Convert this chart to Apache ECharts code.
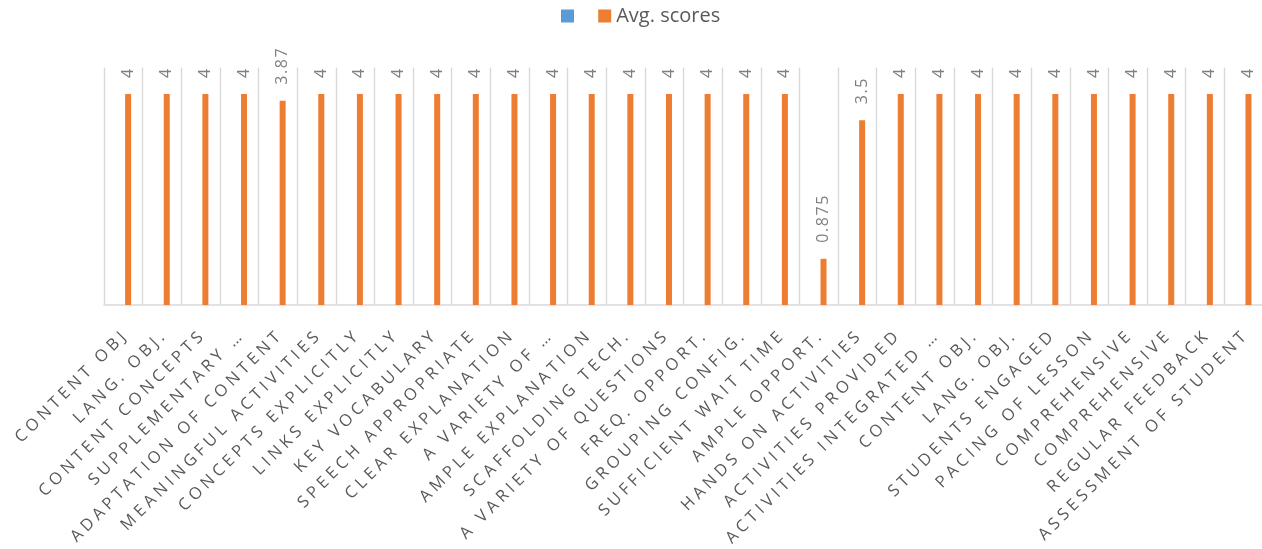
<!DOCTYPE html>
<html>
<head>
<meta charset="utf-8">
<title>Avg. scores</title>
<script src="https://cdn.jsdelivr.net/npm/echarts@6/dist/echarts.min.js"></script>
<style>
  html, body { margin: 0; padding: 0; background: #ffffff; }
  #chart { width: 1262px; height: 549px; }
</style>
</head>
<body>
<div id="chart"></div>
<script>
// Observation items, in the order they appear along the axis
const categories = [
  'CONTENT OBJ',
  'LANG. OBJ.',
  'CONTENT CONCEPTS',
  'SUPPLEMENTARY …',
  'ADAPTATION OF CONTENT',
  'MEANINGFUL ACTIVITIES',
  'CONCEPTS EXPLICITLY',
  'LINKS EXPLICITLY',
  'KEY VOCABULARY',
  'SPEECH APPROPRIATE',
  'CLEAR EXPLANATION',
  'A VARIETY OF …',
  'AMPLE EXPLANATION',
  'SCAFFOLDING TECH.',
  'A VARIETY OF QUESTIONS',
  'FREQ. OPPORT.',
  'GROUPING CONFIG.',
  'SUFFICIENT WAIT TIME',
  'AMPLE OPPORT.',
  'HANDS ON ACTIVITIES',
  'ACTIVITIES PROVIDED',
  'ACTIVITIES INTEGRATED …',
  'CONTENT OBJ.',
  'LANG. OBJ.',
  'STUDENTS ENGAGED',
  'PACING OF LESSON',
  'COMPREHENSIVE',
  'COMPREHENSIVE',
  'REGULAR FEEDBACK',
  'ASSESSMENT OF STUDENT'
];

// Average score per item
const avgScores = [
  4, 4, 4, 4, 3.87, 4, 4, 4, 4, 4,
  4, 4, 4, 4, 4, 4, 4, 4, 0.875, 3.5,
  4, 4, 4, 4, 4, 4, 4, 4, 4, 4
];

// First legend entry: an unnamed series with no values
const blankName = ' ';
const blankValues = [];

// Tracked text for axis and value labels
const spaced = (s, gap) => String(s).split('').join(gap);
const WIDE = '\u2005';
const NARROW = '\u200A';

const chart = echarts.init(document.getElementById('chart'), null, { renderer: 'canvas' });

chart.setOption({
  animation: false,
  backgroundColor: '#ffffff',
  textStyle: { fontFamily: '"Open Sans", "Noto Sans", sans-serif' },
  legend: {
    left: 556,
    top: 1,
    itemWidth: 13,
    itemHeight: 13,
    itemGap: 14,
    icon: 'rect',
    textStyle: { color: '#595959', fontSize: 20, lineHeight: 20 },
    data: [blankName, 'Avg. scores']
  },
  grid: {
    left: 104,
    top: 67.6,
    width: 1159,
    height: 237.4,
    containLabel: false,
    outerBoundsMode: 'none'
  },
  xAxis: {
    type: 'category',
    data: categories,
    boundaryGap: true,
    axisTick: { show: false },
    axisLine: { show: true, lineStyle: { color: '#d9d9d9', width: 1.6 } },
    splitLine: { show: true, interval: 0, lineStyle: { color: '#d9d9d9', width: 1.4 } },
    axisLabel: {
      interval: 0,
      rotate: 45,
      margin: 30,
      color: '#595959',
      fontSize: 16.5,
      formatter: v => spaced(v, WIDE)
    }
  },
  yAxis: {
    type: 'value',
    min: 0,
    max: 4.5,
    show: false,
    splitLine: { show: false }
  },
  series: [
    {
      name: blankName,
      type: 'bar',
      data: blankValues,
      barWidth: 6,
      barGap: '60%',
      itemStyle: { color: '#5b9bd5' }
    },
    {
      name: 'Avg. scores',
      type: 'bar',
      data: avgScores,
      barWidth: 6,
      barGap: '60%',
      itemStyle: { color: '#ed7d31' },
      label: {
        show: true,
        position: 'top',
        distance: 16,
        rotate: 90,
        align: 'left',
        verticalAlign: 'middle',
        color: '#7f7f7f',
        fontSize: 16,
        formatter: p => spaced(p.value, NARROW)
      }
    }
  ]
});
</script>
</body>
</html>
